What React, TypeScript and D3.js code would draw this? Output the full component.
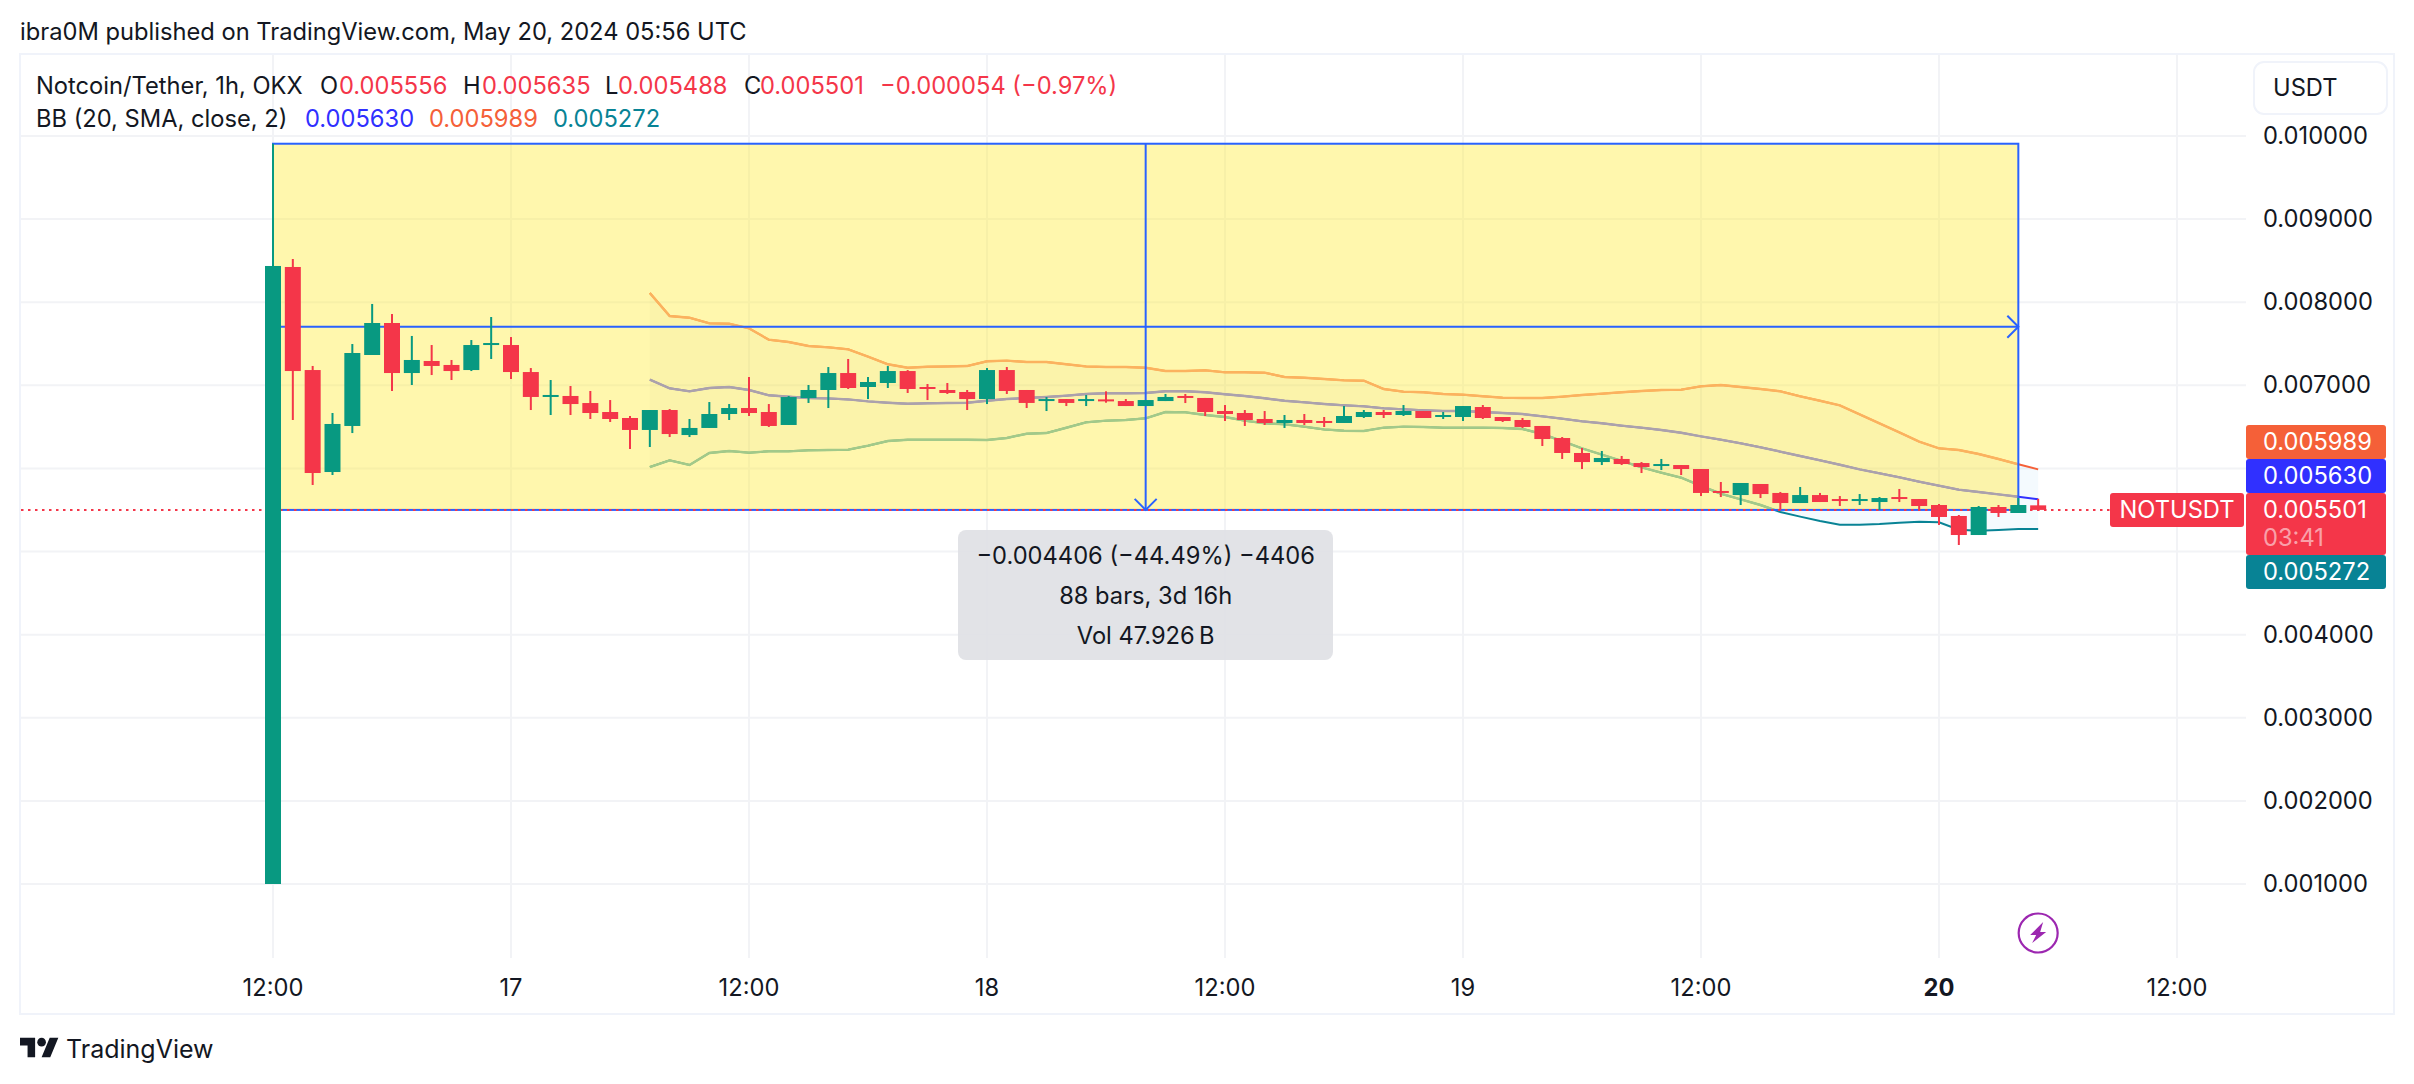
import * as d3 from "d3";

// prices are in millionths of USDT (5501 = 0.005501), one entry per hourly bar from May 16 12:00
const opens = [1000,8424,7184,5957,6511,7365,7750,7148,7293,7245,7184,7485,7485,7160,6860,6872,6787,6679,6607,6463,6703,6402,6487,6655,6727,6679,6523,6847,6944,7148,6980,7028,7172,6980,6944,6920,6835,7184,6944,6811,6835,6811,6831,6811,6751,6811,6872,6848,6691,6667,6595,6547,6583,6571,6547,6619,6679,6643,6691,6619,6619,6739,6619,6583,6511,6366,6186,6077,6114,6065,6029,6041,5993,5729,5680,5813,5705,5584,5680,5632,5608,5596,5656,5632,5560,5428,5199,5536,5464,5556];
const highs = [9907,8520,7233,6667,7497,7979,7858,7594,7485,7305,7545,7822,7581,7208,7064,6992,6932,6823,6631,6703,6715,6595,6799,6775,7100,6775,6872,7004,7220,7317,7100,7232,7184,7016,7028,6944,7208,7220,6944,6859,6835,6884,6928,6835,6823,6896,6896,6848,6763,6703,6691,6643,6655,6619,6751,6703,6703,6763,6691,6679,6751,6763,6619,6607,6511,6378,6246,6210,6150,6077,6114,6041,5993,5837,5825,5813,5717,5777,5705,5668,5692,5656,5753,5632,5572,5440,5548,5560,5644,5635];
const lows = [1000,6583,5801,5921,6426,7365,6932,7004,7124,7064,7172,7317,7076,6703,6643,6643,6595,6559,6234,6258,6378,6378,6487,6583,6631,6499,6523,6788,6727,6956,6835,6968,6908,6823,6896,6703,6775,6896,6727,6691,6751,6751,6791,6751,6751,6811,6787,6631,6571,6511,6523,6487,6523,6499,6547,6607,6607,6631,6607,6595,6571,6595,6559,6487,6270,6114,5993,6041,6041,5945,5981,5921,5668,5656,5560,5644,5500,5584,5596,5548,5560,5500,5596,5500,5320,5079,5199,5416,5464,5488];
const closes = [8436,7172,5945,6535,7389,7750,7148,7305,7233,7172,7485,7509,7160,6860,6884,6775,6667,6595,6463,6703,6414,6487,6655,6727,6667,6511,6859,6944,7148,6968,7040,7172,6956,6956,6908,6835,7184,6932,6788,6835,6788,6835,6807,6751,6823,6860,6848,6679,6655,6583,6547,6583,6547,6547,6631,6679,6643,6691,6607,6643,6751,6607,6571,6499,6354,6186,6077,6126,6053,6017,6053,5993,5705,5705,5825,5692,5584,5680,5596,5608,5632,5644,5632,5548,5416,5199,5536,5464,5560,5501];

// Bollinger bands start at bar 19 (first full 20 bar window)
const bbStart = 19;
const bbUpper = [8111,7834,7814,7746,7742,7686,7549,7521,7473,7457,7433,7345,7253,7212,7224,7228,7232,7289,7297,7281,7281,7253,7228,7220,7220,7212,7172,7172,7180,7156,7156,7152,7100,7092,7076,7060,7056,6956,6924,6916,6896,6888,6868,6852,6848,6848,6864,6884,6900,6916,6932,6944,6948,6988,7004,6980,6956,6928,6868,6815,6759,6651,6543,6434,6322,6242,6222,6174,6114,6050,5989];
const bbBasis = [7068,6964,6928,6968,6980,6944,6880,6863,6847,6843,6831,6807,6791,6779,6783,6787,6791,6815,6835,6847,6859,6876,6896,6904,6904,6908,6928,6928,6916,6892,6872,6844,6815,6795,6775,6759,6747,6723,6711,6699,6691,6691,6679,6667,6655,6627,6599,6567,6543,6515,6491,6463,6430,6386,6346,6302,6254,6202,6150,6098,6045,5989,5941,5893,5841,5793,5745,5717,5688,5660,5630];
const bbLower = [6017,6097,6041,6186,6210,6190,6206,6206,6218,6222,6226,6274,6330,6346,6346,6346,6346,6342,6366,6418,6426,6490,6555,6575,6583,6603,6679,6675,6643,6619,6575,6543,6531,6503,6470,6454,6450,6491,6503,6499,6491,6491,6491,6487,6475,6414,6330,6242,6166,6090,6013,5949,5889,5789,5696,5628,5560,5476,5420,5368,5323,5323,5331,5347,5360,5352,5263,5251,5259,5271,5272];

const priceTicks = [1000, 2000, 3000, 4000, 5000, 6000, 7000, 8000, 9000, 10000];
// 0.005000 and 0.006000 sit behind the coloured price tags
const priceLabels = [1000, 2000, 3000, 4000, 7000, 8000, 9000, 10000];
const timeTickBars = [0, 12, 24, 36, 48, 60, 72, 84, 96];
const timeTickLabels = ["12:00", "17", "12:00", "18", "12:00", "19", "12:00", "20", "12:00"];

// price range drawing: from bar 0 high to bar 88
const rangeFromBar = 0;
const rangeToBar = 88;
const rangeHigh = 9907;
const lastClose = 5501;

const FONT = "Inter, 'Noto Sans', sans-serif";
const INK = "#131722";
const GRID = "#F2F3F6";
const UP = "#089981";
const DOWN = "#F43649";
const BLUE = "#2962FF";

const x = d3.scaleLinear().domain([0, 84]).range([273, 1939]);
const y = d3.scaleLinear().domain([1000, 10000]).range([884, 136]);
const fmt = d3.format(".6f");
const priceText = (v: number) => fmt(v / 1e6);

const bandLine = d3.line<number>().x((_, i) => x(bbStart + i)).y((d) => y(d));
const bandArea = d3
  .area<number>()
  .x((_, i) => x(bbStart + i))
  .y0((_, i) => y(bbLower[i]))
  .y1((d) => y(d));

function Label(props: any) {
  const { children, ...rest } = props;
  return (
    <text fontFamily={FONT} fontSize={23.7} fill={INK} {...rest}>
      {children}
    </text>
  );
}

function PriceTag({ top, height, color, text }: { top: number; height: number; color: string; text: string }) {
  return (
    <g>
      <rect x={2246} y={top} width={140} height={height} fill={color} rx={3} />
      <Label x={2263} y={top + 25} fill="#fff">
        {text}
      </Label>
    </g>
  );
}

export default function App() {
  const left = x(rangeFromBar);
  const right = x(rangeToBar);
  const top = y(rangeHigh);
  const bottom = y(lastClose);
  const midX = (left + right) / 2;
  const midY = (top + bottom) / 2;

  return (
    <svg width={2414} height={1084} style={{ position: "fixed", left: 0, top: 0, display: "block", background: "#fff" }}>
      <defs>
        <clipPath id="range-clip">
          <rect x={left} y={top} width={right - left} height={bottom - top} />
        </clipPath>
        <clipPath id="outside-range-clip">
          <path
            clipRule="evenodd"
            d={`M0,0H2414V1084H0Z M${left},${top}H${right}V${bottom}H${left}Z`}
          />
        </clipPath>
      </defs>

      <Label x={20} y={40}>ibra0M published on TradingView.com, May 20, 2024 05:56 UTC</Label>

      {/* frame and grid */}
      <rect x={20} y={54} width={2374} height={960} fill="none" stroke="#F0F3FA" strokeWidth={2} />
      {priceTicks.map((t) => (
        <line key={t} x1={21} x2={2246} y1={y(t)} y2={y(t)} stroke={GRID} strokeWidth={2} />
      ))}
      {timeTickBars.map((b) => (
        <line key={b} x1={x(b)} x2={x(b)} y1={55} y2={958} stroke={GRID} strokeWidth={2} />
      ))}

      {/* bollinger bands */}
      <path d={bandArea(bbUpper) || ""} fill="#2196F3" fillOpacity={0.05} clipPath="url(#outside-range-clip)" />
      <path d={bandLine(bbUpper) || ""} fill="none" stroke="#F56038" strokeWidth={2} />
      <path d={bandLine(bbBasis) || ""} fill="none" stroke="#3030FF" strokeWidth={2} />
      <path d={bandLine(bbLower) || ""} fill="none" stroke="#088395" strokeWidth={2} />

      {/* price range fill, lines look washed out under it */}
      <rect x={left} y={top} width={right - left} height={bottom - top} fill="#FFEB3B" fillOpacity={0.42} />
      <g clipPath="url(#range-clip)" fill="none" strokeWidth={2.4}>
        <path d={bandArea(bbUpper) || ""} fill="#8A7A50" fillOpacity={0.03} stroke="none" />
        <path d={bandLine(bbUpper) || ""} stroke="#FBB25F" />
        <path d={bandLine(bbBasis) || ""} stroke="#ABA1AC" />
        <path d={bandLine(bbLower) || ""} stroke="#A2C98A" />
      </g>

      <g fill="none" stroke={BLUE} strokeWidth={2}>
        <rect x={left} y={top} width={right - left} height={bottom - top} />
        <line x1={left} x2={right} y1={midY} y2={midY} />
        <line x1={midX} x2={midX} y1={top} y2={bottom} />
        <path d={`M${right - 11},${midY - 11}L${right},${midY}L${right - 11},${midY + 11}`} />
        <path d={`M${midX - 11},${bottom - 11}L${midX},${bottom}L${midX + 11},${bottom - 11}`} />
      </g>

      {/* last price line */}
      <line x1={21} x2={2110} y1={y(lastClose)} y2={y(lastClose)} stroke={DOWN} strokeWidth={2} strokeDasharray="2.5 4.5" />

      {/* candles */}
      {opens.map((o, i) => {
        const c = closes[i];
        const color = c >= o ? UP : DOWN;
        const bodyTop = y(Math.max(o, c));
        const bodyBottom = y(Math.min(o, c));
        return (
          <g key={i} fill={color}>
            <rect x={x(i) - 1} y={y(highs[i])} width={2} height={y(lows[i]) - y(highs[i])} />
            <rect x={x(i) - 8} y={bodyTop} width={16} height={Math.max(bodyBottom - bodyTop, 2)} />
          </g>
        );
      })}

      {/* legend */}
      <Label x={36} y={94}>Notcoin/Tether, 1h, OKX</Label>
      <Label x={320} y={94}>O</Label>
      <Label x={339} y={94} fill={DOWN}>{priceText(opens[89])}</Label>
      <Label x={463} y={94}>H</Label>
      <Label x={482} y={94} fill={DOWN}>{priceText(highs[89])}</Label>
      <Label x={605} y={94}>L</Label>
      <Label x={618} y={94} fill={DOWN}>{priceText(lows[89])}</Label>
      <Label x={744} y={94}>C</Label>
      <Label x={760} y={94} fill={DOWN}>{priceText(closes[89])}</Label>
      <Label x={880} y={94} fill={DOWN}>−0.000054 (−0.97%)</Label>
      <Label x={36} y={127}>BB (20, SMA, close, 2)</Label>
      <Label x={305} y={127} fill="#3030FF">{priceText(bbBasis[70])}</Label>
      <Label x={429} y={127} fill="#F56038">{priceText(bbUpper[70])}</Label>
      <Label x={553} y={127} fill="#088395">{priceText(bbLower[70])}</Label>

      {/* measure tooltip */}
      <rect x={958} y={530} width={375} height={130} rx={8} fill="#DFE1E5" fillOpacity={0.92} />
      <Label x={midX} y={564} textAnchor="middle">−0.004406 (−44.49%) −4406</Label>
      <Label x={midX} y={604} textAnchor="middle">88 bars, 3d 16h</Label>
      <Label x={midX} y={644} textAnchor="middle">Vol 47.926{"\u2009"}B</Label>

      {/* price axis */}
      <rect x={2254} y={62} width={133} height={52} rx={10} fill="#fff" stroke="#F0F3FA" strokeWidth={2} />
      <Label x={2273} y={96}>USDT</Label>
      {priceLabels.map((t) => (
        <Label key={t} x={2263} y={y(t) + 8}>{priceText(t)}</Label>
      ))}

      <PriceTag top={425} height={34} color="#F56038" text={priceText(bbUpper[70])} />
      <PriceTag top={459} height={34} color="#3030FF" text={priceText(bbBasis[70])} />
      <PriceTag top={493} height={62} color={DOWN} text={priceText(lastClose)} />
      <Label x={2263} y={546} fill="#fff" fillOpacity={0.55}>03:41</Label>
      <PriceTag top={555} height={34} color="#088395" text={priceText(bbLower[70])} />
      <rect x={2110} y={493} width={134} height={34} rx={3} fill={DOWN} />
      <Label x={2177} y={518} fill="#fff" textAnchor="middle">NOTUSDT</Label>

      {/* time axis */}
      {timeTickBars.map((b, i) => (
        <Label key={b} x={x(b)} y={996} textAnchor="middle" fontWeight={timeTickLabels[i] === "20" ? 700 : 400}>
          {timeTickLabels[i]}
        </Label>
      ))}

      {/* lightning badge */}
      <circle cx={x(89)} cy={933} r={19.5} fill="none" stroke="#9C27B0" strokeWidth={2.2} />
      <path
        transform={`translate(${x(89)},933)`}
        d="M5,-11L-8,2L-2,2L-6,10L8,-1L2,-1Z"
        fill="#9C27B0"
      />

      {/* logo */}
      <g transform="translate(20,1033.5) scale(1.08)" fill="#131722">
        <path d="M14 22H7V11H0V4h14v18zM28 22h-8l7.5-18h8L28 22z" />
        <circle cx={20} cy={8} r={4} />
      </g>
      <Label x={66} y={1058} fontSize={25}>TradingView</Label>
    </svg>
  );
}
